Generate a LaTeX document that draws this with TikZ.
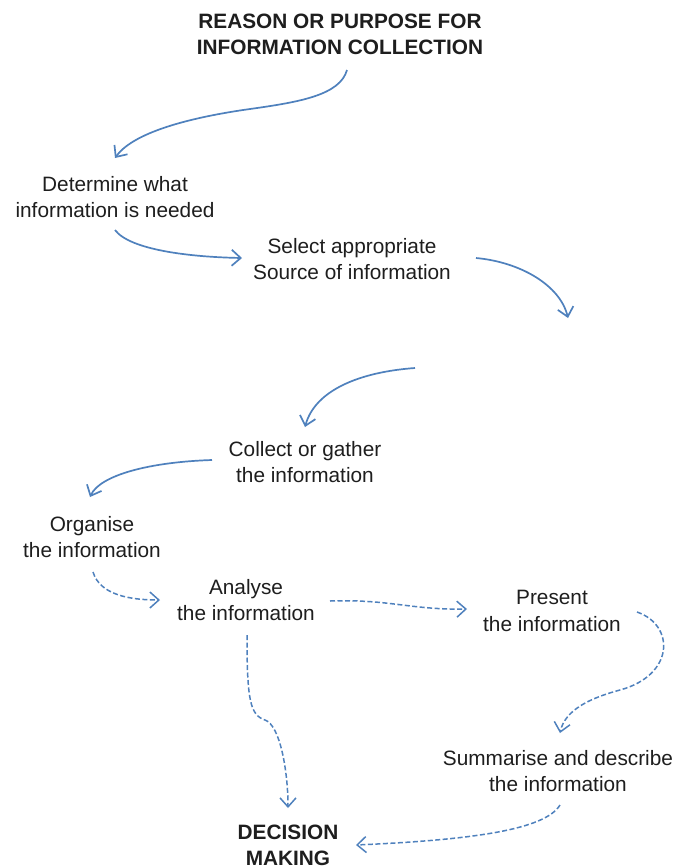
\documentclass[tikz,border=0pt]{standalone}
\usepackage{fontspec}
\setmainfont{Liberation Sans}
\usetikzlibrary{arrows.meta,calc}
\definecolor{arrowblue}{HTML}{4F81BD}
\definecolor{textgrey}{HTML}{1E1E1E}
\tikzset{
  lbl/.style={align=center,inner sep=0pt,text=textgrey,font=\fontsize{20.8}{26.5}\selectfont},
  lblbold/.style={lbl,font=\fontsize{20.8}{26}\selectfont\bfseries},
  solidarrow/.style={draw=arrowblue,line width=1.7pt,-{Straight Barb[length=9pt,width=16pt]}},
  dasharrow/.style={draw=arrowblue,line width=1.5pt,dash pattern=on 5pt off 2.5pt,-{Straight Barb[length=9pt,width=16pt]}}
}
\begin{document}
\begin{tikzpicture}[x=1pt,y=-1pt]
\useasboundingbox (0,0) rectangle (679,868);
\fill[white] (0,0) rectangle (679,868);

\node[lblbold] (title) at (340,34) {REASON OR PURPOSE FOR\\INFORMATION COLLECTION};
\node[lbl] (determine) at (115,197) {Determine what\\information is needed};
\node[lbl] (select) at (352,259) {Select appropriate\\Source of information};
\node[lbl] (collect) at (305,462) {Collect or gather\\the information};
\node[lbl] (organise) at (92,537) {Organise\\the information};
\node[lbl] (analyse) at (246,600) {Analyse\\the information};
\node[lbl] (present) at (552,611) {Present\\the information};
\node[lbl] (summarise) at (558,771) {Summarise and describe\\the information};
\node[lblbold] (decision) at (288,845) {DECISION\\MAKING};

% solid connectors
\draw[solidarrow] ($(title)+(7,36)$) .. controls ($(title)+(0,61)$) and ($(title)+(-40,68)$) .. ($(title)+(-90,75)$)
   .. controls ($(title)+(-140,82)$) and ($(determine)+(20,-67)$) .. ($(determine)+(0,-39)$);
\draw[solidarrow] ($(determine)+(0,33)$) .. controls ($(determine)+(15,53)$) and ($(select)+(-162,-2)$) .. ($(select)+(-110,-1)$);
\coordinate (gapend) at ($(select)+(216,59)$);
\draw[solidarrow] ($(select)+(124,-1)$) .. controls ($(select)+(168,3)$) and ($(select)+(208,26)$) .. (gapend);
\coordinate (gapstart) at ($(collect)+(110,-94)$);
\draw[solidarrow] (gapstart) .. controls ($(collect)+(55,-90)$) and ($(collect)+(10,-72)$) .. ($(collect)+(0,-35)$);
\draw[solidarrow] ($(collect)+(-93,-2)$) .. controls ($(collect)+(-155,0)$) and ($(organise)+(8,-62)$) .. ($(organise)+(-2,-40)$);

% dashed connectors
\draw[dasharrow] ($(organise)+(1,35)$) .. controls ($(organise)+(8,58)$) and ($(analyse)+(-116,0)$) .. ($(analyse)+(-86,0)$);
\draw[dasharrow] ($(analyse)+(84,1)$) .. controls ($(analyse)+(144,-1)$) and ($(analyse)+(164,10)$) .. ($(present)+(-85,-2)$);
\draw[dasharrow] ($(present)+(85,1)$) .. controls ($(present)+(123,14)$) and ($(present)+(123,64)$) .. ($(present)+(68,79)$)
   .. controls ($(present)+(38,87)$) and ($(summarise)+(7,-61)$) .. ($(summarise)+(2,-38)$);
\draw[dasharrow] ($(analyse)+(1,35)$) .. controls ($(analyse)+(1,100)$) and ($(analyse)+(4,115)$) .. ($(analyse)+(19,120)$)
   .. controls ($(analyse)+(34,125)$) and ($(decision)+(0,-74)$) .. ($(decision)+(0,-37)$);
\draw[dasharrow] ($(summarise)+(2,34)$) .. controls ($(summarise)+(-13,59)$) and ($(decision)+(182,-5)$) .. ($(decision)+(68,0)$);
\end{tikzpicture}
\end{document}
